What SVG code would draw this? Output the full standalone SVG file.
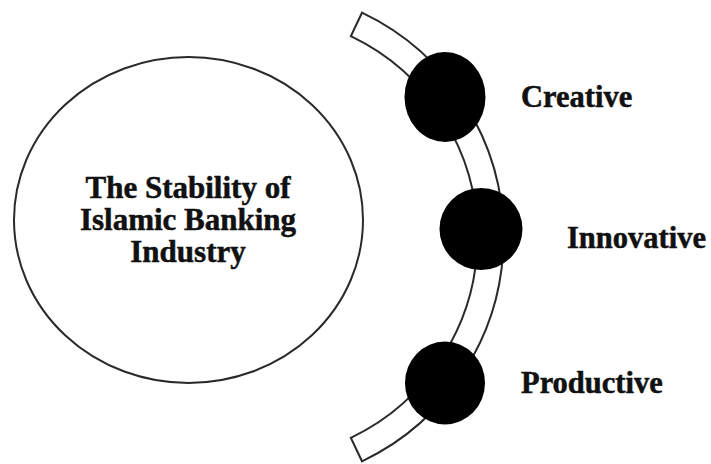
<svg xmlns="http://www.w3.org/2000/svg" width="711" height="464" viewBox="0 0 711 464">
  <style>
    .outline { fill: #ffffff; stroke: #2a2a2a; stroke-width: 2; }
    .dot { fill: #000000; }
    .title { font-family: "Liberation Serif", "Times New Roman", serif; font-weight: bold; font-size: 31px; fill: #111111; stroke: #111111; stroke-width: 0.5; text-anchor: middle; }
    .label { font-family: "Liberation Serif", "Times New Roman", serif; font-weight: bold; font-size: 30.5px; fill: #111111; stroke: #111111; stroke-width: 0.5; }
  </style>
  <rect width="711" height="464" fill="#ffffff"/>
  <g id="stability">
    <ellipse class="outline" cx="188.5" cy="220" rx="174.5" ry="163"/>
    <text class="title" x="188" y="198">The Stability of</text>
    <text class="title" x="188" y="230">Islamic Banking</text>
    <text class="title" x="188" y="262">Industry</text>
  </g>
  <g id="connectors">
    <path class="outline" d="M 362,12.7 A 248.5 248.5 0 0 1 362,461.3 L 350.8,437.8 A 222.5 222.5 0 0 0 350.8,36.2 Z"/>
  </g>
  <g id="creative">
    <ellipse class="dot" cx="445" cy="97" rx="40.5" ry="45"/>
    <text class="label" x="521" y="107">Creative</text>
  </g>
  <g id="innovative">
    <ellipse class="dot" cx="481" cy="229" rx="41.5" ry="41"/>
    <text class="label" x="567" y="248">Innovative</text>
  </g>
  <g id="productive">
    <ellipse class="dot" cx="445" cy="383" rx="40" ry="41.5"/>
    <text class="label" x="521" y="393">Productive</text>
  </g>
</svg>
